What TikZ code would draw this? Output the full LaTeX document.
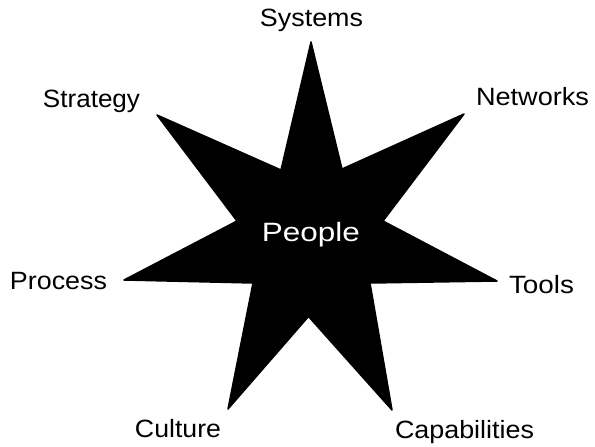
\documentclass[tikz,border=0pt]{standalone}
\usepackage{fontspec}
\usepackage{graphicx}
\setmainfont{Liberation Sans}
% label text, stretched to a given width (height kept)
\newcommand{\widelabel}[2]{\resizebox{#1pt}{\height}{#2}}
\begin{document}
\begin{tikzpicture}[x=1pt,y=-1pt,
  lbl/.style={anchor=base,inner sep=0pt,text=black,font=\fontsize{25}{25}\selectfont},
  centre/.style={anchor=base,inner sep=0pt,text=white,font=\fontsize{26.5}{26.5}\selectfont},
  starshape/.style={fill=black,draw=black,line width=1.5pt,line join=round}]
\useasboundingbox (0,0) rectangle (595,447);

% outer points of the seven-pointed star
\coordinate (pSys)  at (311,42);
\coordinate (pNet)  at (464,114);
\coordinate (pTool) at (497,281);
\coordinate (pCap)  at (392,410);
\coordinate (pCul)  at (228,409);
\coordinate (pProc) at (124,280);
\coordinate (pStr)  at (157,115);
% inner notches
\coordinate (iA) at (342,169);
\coordinate (iB) at (383,221);
\coordinate (iC) at (370,283);
\coordinate (iD) at (308.5,316.5);
\coordinate (iE) at (253,283);
\coordinate (iF) at (237,221);
\coordinate (iG) at (281,170);

\draw[starshape] (pSys) -- (iA) -- (pNet) -- (iB) -- (pTool) -- (iC) -- (pCap)
  -- (iD) -- (pCul) -- (iE) -- (pProc) -- (iF) -- (pStr) -- (iG) -- cycle;

\node[centre] (people) at (311,241.5) {\widelabel{98}{People}};

\node[lbl] (systems)  at (311.5,26.5) {\widelabel{103}{Systems}};
\node[lbl] (networks) at (532.5,105)  {\widelabel{113}{Networks}};
\node[lbl] (strategy) at (91.5,107)   {\widelabel{97}{Strategy}};
\node[lbl] (process)  at (58.5,289)   {\widelabel{97}{Process}};
\node[lbl] (tools)    at (541.5,293)  {\widelabel{65}{Tools}};
\node[lbl] (capab)    at (464.5,438)  {\widelabel{139}{Capabilities}};
\node[lbl] (culture)  at (178,437)    {\widelabel{86}{Culture}};
\end{tikzpicture}
\end{document}
